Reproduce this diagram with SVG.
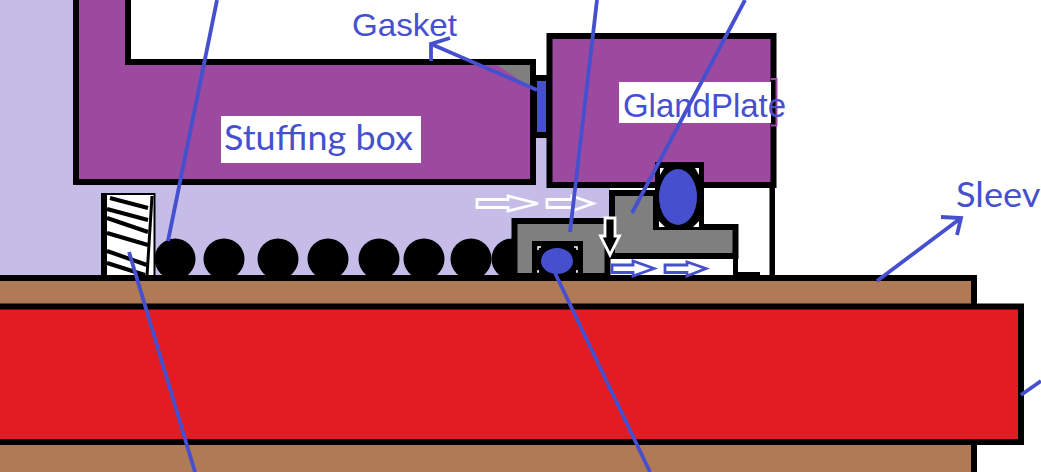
<svg xmlns="http://www.w3.org/2000/svg" width="1041" height="472" viewBox="0 0 1041 472">
<style>
.k{stroke:#000;stroke-width:6}
.p{fill:#9c4a9f}
.g{fill:#7f7f7f}
.b{fill:#4650cf}
.l{fill:none;stroke:#4650cf;stroke-width:3.800}
.ar{stroke-width:2.800;stroke-linejoin:miter}
.t{fill:#4650cf}
.ln{font-family:"Liberation Sans",Arial,sans-serif}
.la{font-family:Lato,"Liberation Sans",sans-serif}
</style>
<rect width="1041" height="472" fill="#fff"/>
<g id="chamber">
<path d="M0 0H76V183H550V187H610V278H0Z" fill="#c5bde8"/>
<rect x="530" y="130" width="20" height="57" fill="#c5bde8"/>
<rect x="769.500" y="186" width="5.500" height="90" fill="#000"/>
<rect x="738" y="272" width="22" height="4" fill="#000"/>
</g>
<g id="stuffing-box">
<path class="k p" d="M76 -6V182H533V62H128V-6Z"/>
<path class="g" d="M497 65H530V87Z"/>
<rect x="221" y="116" width="200" height="47" fill="#fff"/>
<text class="t la" x="224" y="150" font-size="35" textLength="189" lengthAdjust="spacingAndGlyphs">Stuffing box</text>
</g>
<g id="gasket">
<rect x="533" y="75" width="16" height="63" fill="#000"/>
<rect class="b" x="537" y="81" width="9" height="51"/>
<text class="t ln" x="352" y="36" font-size="32" textLength="105" lengthAdjust="spacingAndGlyphs">Gasket</text>
</g>
<g id="gland-plate">
<rect class="k p" x="549.500" y="36" width="224" height="149"/>
<rect x="619" y="82" width="156" height="41" fill="#fff"/>
<rect x="771" y="82" width="5" height="41" fill="#000"/>
<path d="M771 79H776.500V125.500H771" fill="none" stroke="#9c4a9f" stroke-width="2"/>
<text class="t ln" x="623" y="117" font-size="33" textLength="163" lengthAdjust="spacingAndGlyphs">GlandPlate</text>
</g>
<g id="sleeve">
<rect class="k" x="-6" y="278" width="980" height="200" fill="#b07a56"/>
<rect class="k" x="-6" y="306.500" width="1027" height="135.500" fill="#e31c23"/>
<text class="t la" x="956" y="207" font-size="35" textLength="103" lengthAdjust="spacingAndGlyphs">Sleeve</text>
</g>
<g id="retainer">
<rect x="102" y="194" width="52.500" height="82" fill="#fff" stroke="#000" stroke-width="2"/>
<rect x="101" y="193" width="6" height="83" fill="#000"/>
<path d="M110 198L148 208M107 209L148 220M107 218L148 232M107 233L148 245M107 251L147 265M107 263L145 275" stroke="#000" stroke-width="4" fill="none"/>
<path d="M152 196L147 276" stroke="#000" stroke-width="3" fill="none"/>
</g>
<g id="springs">
<circle cx="175" cy="259" r="20.500"/>
<circle cx="224" cy="259" r="20.500"/>
<circle cx="278" cy="259" r="20.500"/>
<circle cx="328" cy="259" r="20.500"/>
<circle cx="379" cy="259" r="20.500"/>
<circle cx="424" cy="259" r="20.500"/>
<circle cx="471" cy="259" r="20.500"/>
<circle cx="512" cy="259" r="20.500"/>
</g>
<g id="rotating-ring">
<path class="k g" d="M612 193H656V227H735.500V256H612Z"/>
<rect x="611" y="259" width="122" height="17" fill="#fff"/>
<rect x="733" y="256" width="5" height="20" fill="#000"/>
<rect x="655" y="162" width="49" height="67" fill="#000"/>
<path d="M660 168H664L660 175ZM699 168H695L699 175ZM659 221V227H665ZM699 221V227H693Z" fill="#fff"/>
<ellipse class="b" cx="678" cy="197" rx="19" ry="28"/>
</g>
<g id="stationary-seat">
<path class="k g" d="M514.500 276V221H607.500V276Z"/>
<rect x="532" y="241" width="51" height="35" fill="#000"/>
<path d="M538 250V247H541M574 247H577V250M538 270V272H539M576 272H577V270" fill="none" stroke="#fff" stroke-width="1.500"/>
<ellipse class="b" cx="557" cy="261" rx="16" ry="13"/>
<rect x="-6" y="275" width="980" height="6" fill="#000"/>
</g>
<g id="flow-arrows">
<path class="ar" d="M477 199.500H508V196L538 203.500L508 211V207.500H477Z" fill="#c5bde8" stroke="#fff"/>
<path class="ar" d="M547 199.500H572V196L593 203.500L572 211V207.500H547Z" fill="#c5bde8" stroke="#fff"/>
<path class="ar" d="M605 218H615V236H619.500L610 255L600.500 236H605Z" fill="#000" stroke="#fff"/>
<path class="ar" d="M612 265H633V261L654 268.500L633 276V272.500H612Z" fill="#fff" stroke="#4650cf"/>
<path class="ar" d="M665 265H687V262L706 268.500L687 276V272.500H665Z" fill="#fff" stroke="#4650cf"/>
</g>
<g id="connectors">
<path class="l" d="M217 0L168 241"/>
<path class="l" d="M597 0L570 232"/>
<path class="l" d="M745 0L632 213"/>
<path class="l" d="M537 90L431 44M431 61L431 44L450 38"/>
<path class="l" d="M555 273L650 472"/>
<path class="l" d="M129 252L195 472"/>
<path class="l" d="M877 281L961 218M941 217L961 218L957 235"/>
<path class="l" d="M1021 395L1041 381"/>
</g>
</svg>
